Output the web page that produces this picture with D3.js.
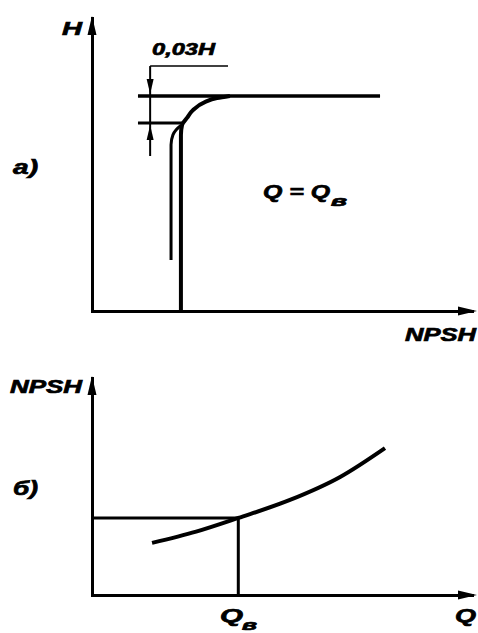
<!DOCTYPE html>
<html>
<head>
<meta charset="utf-8">
<script src="https://cdn.jsdelivr.net/npm/d3@7"></script>
<style>
body { margin: 0; background: #fff; }
svg { display: block; }
text { font-family: "Liberation Sans", Arial, sans-serif; font-weight: bold; font-style: italic; fill: #000; stroke: #000; stroke-width: 0.7; }
.domain { stroke: #000; stroke-width: 3; stroke-linecap: square; }
</style>
</head>
<body>
<svg width="478" height="633"></svg>
<script>
// a) H over NPSH at Q = Qв
var headCurve = [[23.4, 0], [23.4, 60.1], [23.7, 63.5], [25.0, 65.9], [26.6, 68.6], [29.7, 71.3], [32.9, 72.7], [36.3, 73.4]];
var headBranch = [[20.8, 17.4], [20.8, 56.7], [21.3, 60.1], [22.1, 61.8], [23.4, 63.3]];
var headLevel = 73.4;      // steady head
var headDrop = 64.2;       // head minus 3 %
var headLine = [12.1, 75.8];
var dimX = 15.3;
var dimTop = 83.6;
var dimBottom = 52.9;
var dimTickEnd = 35.8;

// б) NPSH over Q
var npshCurve = [[15.8, 24.0], [27.4, 29.2], [38.5, 35.5], [52.1, 43.8], [65.3, 54.4], [77.1, 67.7]];
var qB = 38.5;
var npshB = 35.5;

var svg = d3.select("svg");

function drawAxes(g, x, y) {
	g.append("g")
		.attr("transform", "translate(0," + y.range()[0] + ")")
		.call(d3.axisBottom(x).tickValues([]).tickSizeOuter(0));
	g.append("g")
		.attr("transform", "translate(" + x.range()[0] + ",0)")
		.call(d3.axisLeft(y).tickValues([]).tickSizeOuter(0));

	var xe = x.range()[1], y0 = y.range()[0];
	g.append("path")
		.attr("d", "M" + (xe + 5) + "," + y0 + "L" + (xe - 14) + "," + (y0 - 4.5) + "L" + (xe - 14) + "," + (y0 + 4.5) + "Z");
	var x0 = x.range()[0], ye = y.range()[1];
	g.append("path")
		.attr("d", "M" + x0 + "," + (ye - 2) + "L" + (x0 - 4.5) + "," + (ye + 17) + "L" + (x0 + 4.5) + "," + (ye + 17) + "Z");
}

function line(g, pts, w) {
	return g.append("path")
		.attr("d", d3.line().x(function(d) { return d[0]; }).y(function(d) { return d[1]; })(pts))
		.attr("fill", "none")
		.attr("stroke", "#000")
		.attr("stroke-width", w);
}

function label(g, txt, px, py, size, len) {
	var t = g.append("text")
		.attr("x", px)
		.attr("y", py)
		.attr("font-size", size)
		.text(txt);
	if (len) t.attr("textLength", len).attr("lengthAdjust", "spacingAndGlyphs");
	return t;
}

// ---- panel a ----
var xa = d3.scaleLinear().domain([0, 100]).range([92, 472]);
var ya = d3.scaleLinear().domain([0, 100]).range([311, 18]);
var ga = svg.append("g");

drawAxes(ga, xa, ya);

ga.append("path")
	.datum(headCurve)
	.attr("d", d3.line().x(function(d) { return xa(d[0]); }).y(function(d) { return ya(d[1]); }).curve(d3.curveMonotoneY))
	.attr("fill", "none")
	.attr("stroke", "#000")
	.attr("stroke-width", 4);

ga.append("path")
	.datum(headBranch)
	.attr("d", d3.line().x(function(d) { return xa(d[0]); }).y(function(d) { return ya(d[1]); }).curve(d3.curveMonotoneY))
	.attr("fill", "none")
	.attr("stroke", "#000")
	.attr("stroke-width", 3);

line(ga, [[xa(headLine[0]), ya(headLevel)], [xa(headLine[1]), ya(headLevel)]], 3.5);
line(ga, [[xa(headLine[0]), ya(headDrop)], [xa(headCurve[2][0]), ya(headDrop)]], 3);

// dimension 0,03H
line(ga, [[xa(dimX), ya(dimTop)], [xa(dimX), ya(dimBottom)]], 2);
line(ga, [[xa(dimX), ya(dimTop)], [xa(dimTickEnd), ya(dimTop)]], 1.5);
var ax = xa(dimX), yl = ya(headLevel), yd = ya(headDrop);
ga.append("path").attr("d", "M" + ax + "," + (yl - 2) + "L" + (ax - 3.5) + "," + (yl - 17) + "L" + (ax + 3.5) + "," + (yl - 17) + "Z");
ga.append("path").attr("d", "M" + ax + "," + (yd + 2) + "L" + (ax - 3.5) + "," + (yd + 17) + "L" + (ax + 3.5) + "," + (yd + 17) + "Z");

label(ga, "H", 62, 35, 19, 20);
label(ga, "0,03H", 152, 55, 17, 63);
label(ga, "а)", 13, 174, 20, 25);
label(ga, "Q = Q", 263, 198, 19, 67);
label(ga, "в", 331, 206, 14, 16);
label(ga, "NPSH", 405, 341, 19, 71);

// ---- panel b ----
var xb = d3.scaleLinear().domain([0, 100]).range([92, 472]);
var yb = d3.scaleLinear().domain([0, 100]).range([595, 378]);
var gb = svg.append("g");

drawAxes(gb, xb, yb);

line(gb, [[xb(0), yb(npshB)], [xb(qB), yb(npshB)], [xb(qB), yb(0)]], 3);

gb.append("path")
	.datum(npshCurve)
	.attr("d", d3.line().x(function(d) { return xb(d[0]); }).y(function(d) { return yb(d[1]); }).curve(d3.curveMonotoneX))
	.attr("fill", "none")
	.attr("stroke", "#000")
	.attr("stroke-width", 4);

label(gb, "NPSH", 10, 393, 18, 72);
label(gb, "б)", 13, 495, 20, 25);
label(gb, "Q", 220, 622, 19, 23);
label(gb, "в", 242, 630, 14, 15);
label(gb, "Q", 455, 622, 19, 21);
</script>
</body>
</html>
